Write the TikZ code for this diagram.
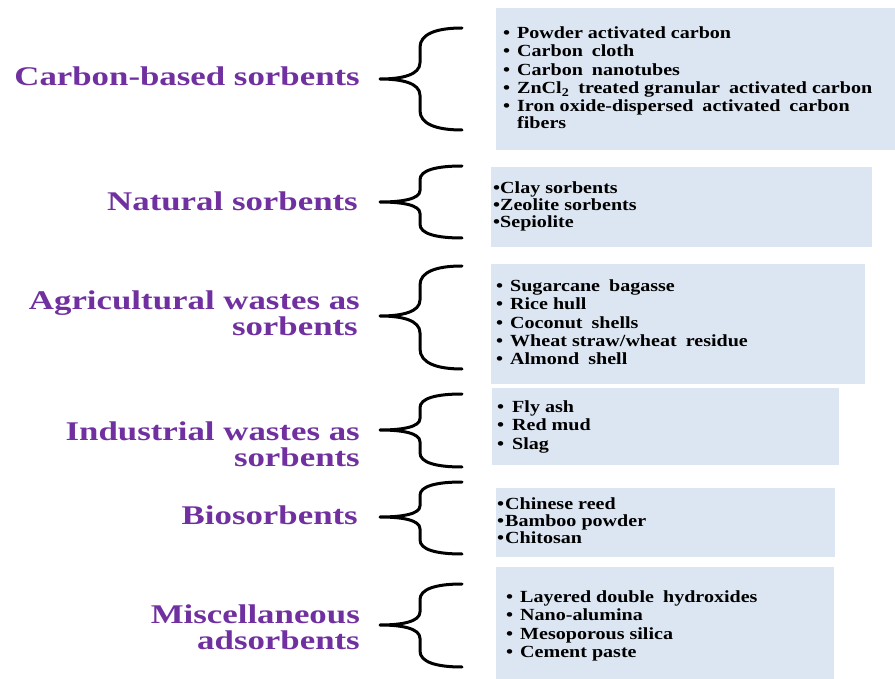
\documentclass[tikz,border=0pt]{standalone}
\usepackage{fontspec}
\setmainfont{Liberation Serif}
\newfontfamily\catfont{Liberation Serif}[FakeStretch=1.29]
\newfontfamily\itemfont{Liberation Serif}[FakeStretch=1.18]
\definecolor{catpurple}{HTML}{7030A0}
\definecolor{boxblue}{HTML}{DCE6F2}
\tikzset{
  catlab/.style={text=catpurple, font=\catfont\bfseries\fontsize{27}{27}\selectfont, inner sep=0pt, anchor=base east},
  itemtxt/.style={text=black, font=\itemfont\bfseries\fontsize{17}{18}\selectfont, inner sep=0pt, anchor=base west},
  boxst/.style={fill=boxblue, draw=none, inner sep=0pt, anchor=north west},
  bracest/.style={draw=black, line width=3pt, line cap=round, line join=round}
}
\newcommand\curlybr[3]{%
  \draw[bracest] (462,#1) .. controls (436,#1) and (420,{#1+0.12*(#2-#1)}) .. (420,{#1+0.38*(#2-#1)})
    -- (420,{#2-0.32*(#2-#1)}) .. controls (420,{#2-0.08*(#2-#1)}) and (402,#2) .. (380,#2)
    .. controls (402,#2) and (420,{#2+0.08*(#3-#2)}) .. (420,{#2+0.32*(#3-#2)})
    -- (420,{#3-0.38*(#3-#2)}) .. controls (420,{#3-0.12*(#3-#2)}) and (436,#3) .. (462,#3);}
\newcommand\bl[1]{\makebox[#1][l]{•}}
\newcommand\ws{\hspace{4pt}}
\begin{document}
\begin{tikzpicture}[x=1pt,y=-1pt]
\useasboundingbox (0,0) rectangle (895,679);
% boxes
\node[boxst, minimum width=399pt, minimum height=142pt] (b1) at (496,8) {};
\node[boxst, minimum width=381pt, minimum height=80pt] (b2) at (491,167) {};
\node[boxst, minimum width=374pt, minimum height=120pt] (b3) at (491,264) {};
\node[boxst, minimum width=347pt, minimum height=77pt] (b4) at (492,388) {};
\node[boxst, minimum width=339pt, minimum height=69pt] (b5) at (496,488) {};
\node[boxst, minimum width=338pt, minimum height=112pt] (b6) at (496,567) {};
% category labels
\node[catlab] (c1) at (360,86) {Carbon-based sorbents};
\node[catlab] (c2) at (358,211) {Natural sorbents};
\node[catlab] (c3a) at (360,309) {Agricultural wastes as};
\node[catlab] (c3b) at (358,336) {sorbents};
\node[catlab] (c4a) at (360,440) {Industrial wastes as};
\node[catlab] (c4b) at (360,466) {sorbents};
\node[catlab] (c5) at (358,524) {Biosorbents};
\node[catlab] (c6a) at (360,623) {Miscellaneous};
\node[catlab] (c6b) at (360,649) {adsorbents};
% braces
\curlybr{28}{79}{130}
\curlybr{166}{202}{238}
\curlybr{266}{316}{369}
\curlybr{394}{430}{467}
\curlybr{482}{517}{554}
\curlybr{584}{625}{667}
% box 1 items
\node[itemtxt] (i11) at (503,38.5) {\bl{14pt}Powder activated carbon};
\node[itemtxt] (i12) at (503,57) {\bl{14pt}Carbon\ws{} cloth};
\node[itemtxt] (i13) at (503,75.5) {\bl{14pt}Carbon\ws{} nanotubes};
\node[itemtxt] (i14) at (503,94) {\bl{14pt}ZnCl\textsubscript{2}\ws{} treated granular\ws{} activated carbon};
\node[itemtxt] (i15) at (503,112) {\bl{14pt}Iron oxide-dispersed\ws{} activated\ws{} carbon};
\node[itemtxt] (i16) at (503,129) {\hspace*{14pt}fibers};
% box 2 items
\node[itemtxt] (i21) at (493,194) {\bl{7pt}Clay sorbents};
\node[itemtxt] (i22) at (493,211) {\bl{7pt}Zeolite sorbents};
\node[itemtxt] (i23) at (493,228) {\bl{7pt}Sepiolite};
% box 3 items
\node[itemtxt] (i31) at (496,292) {\bl{14pt}Sugarcane\ws{} bagasse};
\node[itemtxt] (i32) at (496,310) {\bl{14pt}Rice hull};
\node[itemtxt] (i33) at (496,328) {\bl{14pt}Coconut\ws{} shells};
\node[itemtxt] (i34) at (496,346) {\bl{14pt}Wheat straw/wheat\ws{} residue};
\node[itemtxt] (i35) at (496,364) {\bl{14pt}Almond\ws{} shell};
% box 4 items
\node[itemtxt] (i41) at (497,412) {\bl{15pt}Fly ash};
\node[itemtxt] (i42) at (497,430) {\bl{15pt}Red mud};
\node[itemtxt] (i43) at (497,449) {\bl{15pt}Slag};
% box 5 items
\node[itemtxt] (i51) at (497,509) {\bl{8pt}Chinese reed};
\node[itemtxt] (i52) at (497,526) {\bl{8pt}Bamboo powder};
\node[itemtxt] (i53) at (497,543) {\bl{8pt}Chitosan};
% box 6 items
\node[itemtxt] (i61) at (506,602) {\bl{14pt}Layered double\ws{} hydroxides};
\node[itemtxt] (i62) at (506,620) {\bl{14pt}Nano-alumina};
\node[itemtxt] (i63) at (506,639) {\bl{14pt}Mesoporous silica};
\node[itemtxt] (i64) at (506,657) {\bl{14pt}Cement paste};
\end{tikzpicture}
\end{document}
